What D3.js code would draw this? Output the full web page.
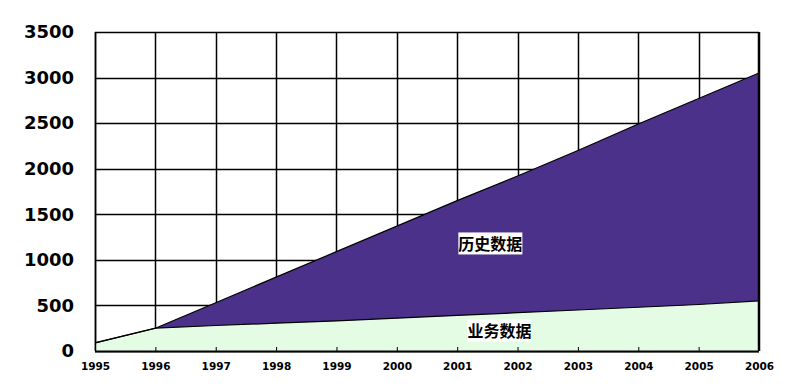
<!DOCTYPE html>
<html>
<head>
<meta charset="utf-8">
<script src="https://cdn.jsdelivr.net/npm/d3@7/dist/d3.min.js"></script>
<style>
  body { margin: 0; background: #fff; }
  svg { display: block; }
</style>
</head>
<body>
<svg id="chart"></svg>
<script>
// years on the x axis
var years = [1995, 1996, 1997, 1998, 1999, 2000, 2001, 2002, 2003, 2004, 2005, 2006];
// 业务数据 (bottom layer)
var businessData = [90, 250, 280, 305, 330, 360, 390, 420, 450, 480, 510, 550];
// 历史数据 (stacked on top)
var historyData = [0, 0, 250, 505, 760, 1010, 1260, 1500, 1750, 2010, 2260, 2500];
var yTicks = [0, 500, 1000, 1500, 2000, 2500, 3000, 3500];
var seriesNames = ["业务数据", "历史数据"];

var width = 786, height = 389;
var margin = { top: 32, right: 27, bottom: 38, left: 95 };

var svg = d3.select("#chart")
    .attr("width", width)
    .attr("height", height);

var x = d3.scaleLinear()
    .domain([1995, 2006])
    .range([margin.left, width - margin.right]);

var y = d3.scaleLinear()
    .domain([0, 3500])
    .range([height - margin.bottom, margin.top]);

//grid
var grid = svg.append("g");
grid.selectAll(".vline")
    .data(years)
    .enter().append("line")
    .attr("x1", function (d) { return Math.round(x(d)) + 0.5; })
    .attr("x2", function (d) { return Math.round(x(d)) + 0.5; })
    .attr("y1", y(3500))
    .attr("y2", y(0))
    .attr("stroke", "#000")
    .attr("stroke-width", 1.5);
grid.selectAll(".hline")
    .data(yTicks)
    .enter().append("line")
    .attr("x1", x(1995))
    .attr("x2", x(2006))
    .attr("y1", function (d) { return Math.round(y(d)) + 0.5; })
    .attr("y2", function (d) { return Math.round(y(d)) + 0.5; })
    .attr("stroke", "#000")
    .attr("stroke-width", 1.5);

//stacked areas
var rows = years.map(function (yr, i) {
    return { year: yr, business: businessData[i], history: historyData[i] };
});
var stack = d3.stack().keys(["business", "history"]);
var layers = stack(rows);
var colors = ["#e4fbe4", "#4b3189"];

var area = d3.area()
    .x(function (d) { return x(d.data.year); })
    .y0(function (d) { return y(d[0]); })
    .y1(function (d) { return y(d[1]); });

var topLine = d3.line()
    .x(function (d) { return x(d.data.year); })
    .y(function (d) { return y(d[1]); });

svg.append("g")
    .selectAll("path")
    .data(layers)
    .enter().append("path")
    .attr("d", area)
    .attr("fill", function (d, i) { return colors[i]; });

svg.append("g")
    .selectAll("path")
    .data(layers)
    .enter().append("path")
    .attr("d", topLine)
    .attr("fill", "none")
    .attr("stroke", "#000")
    .attr("stroke-width", 1.2);

//axes
svg.append("line")
    .attr("x1", x(1995)).attr("x2", x(2006))
    .attr("y1", y(0) + 0.5).attr("y2", y(0) + 0.5)
    .attr("stroke", "#000").attr("stroke-width", 2);
svg.append("line")
    .attr("x1", x(1995) + 0.5).attr("x2", x(1995) + 0.5)
    .attr("y1", y(0)).attr("y2", y(3500))
    .attr("stroke", "#000").attr("stroke-width", 1.5);
svg.append("line")
    .attr("x1", x(2006) - 0.5).attr("x2", x(2006) - 0.5)
    .attr("y1", y(0)).attr("y2", y(3500))
    .attr("stroke", "#000").attr("stroke-width", 1.5);

var xAxis = d3.axisBottom(x)
    .tickValues(years)
    .tickFormat(d3.format("d"))
    .tickSizeInner(-4)
    .tickSizeOuter(0)
    .tickPadding(12);
var gx = svg.append("g")
    .attr("transform", "translate(0," + y(0) + ")")
    .call(xAxis);
gx.select(".domain").remove();
gx.selectAll("text")
    .attr("font-family", "DejaVu Sans")
    .attr("font-weight", "bold")
    .attr("font-size", "10.5px")
    .attr("fill", "#000");

var yAxis = d3.axisLeft(y)
    .tickValues(yTicks)
    .tickFormat(d3.format("d"))
    .tickSize(0)
    .tickPadding(21);
var gy = svg.append("g")
    .attr("transform", "translate(" + x(1995) + ",0)")
    .call(yAxis);
gy.select(".domain").remove();
gy.selectAll("text")
    .attr("font-family", "DejaVu Sans")
    .attr("font-weight", "bold")
    .attr("font-size", "18px")
    .attr("fill", "#000");

//series labels with white boxes
var labels = [
    { name: seriesNames[1], year: 2001.55, value: 1180, size: 16 },
    { name: seriesNames[0], year: 2001.7, value: 225, size: 16 }
];
labels.forEach(function (l) {
    var g = svg.append("g");
    var t = g.append("text")
        .attr("x", x(l.year))
        .attr("y", y(l.value))
        .attr("text-anchor", "middle")
        .attr("dominant-baseline", "central")
        .attr("font-family", "Noto Sans CJK SC")
        .attr("font-weight", "bold")
        .attr("font-size", l.size + "px")
        .attr("fill", "#000")
        .text(l.name);
    var bb = t.node().getBBox();
    g.insert("rect", "text")
        .attr("x", bb.x)
        .attr("y", bb.y + 1)
        .attr("width", bb.width)
        .attr("height", bb.height - 2)
        .attr("fill", "#fff");
});
</script>
</body>
</html>
